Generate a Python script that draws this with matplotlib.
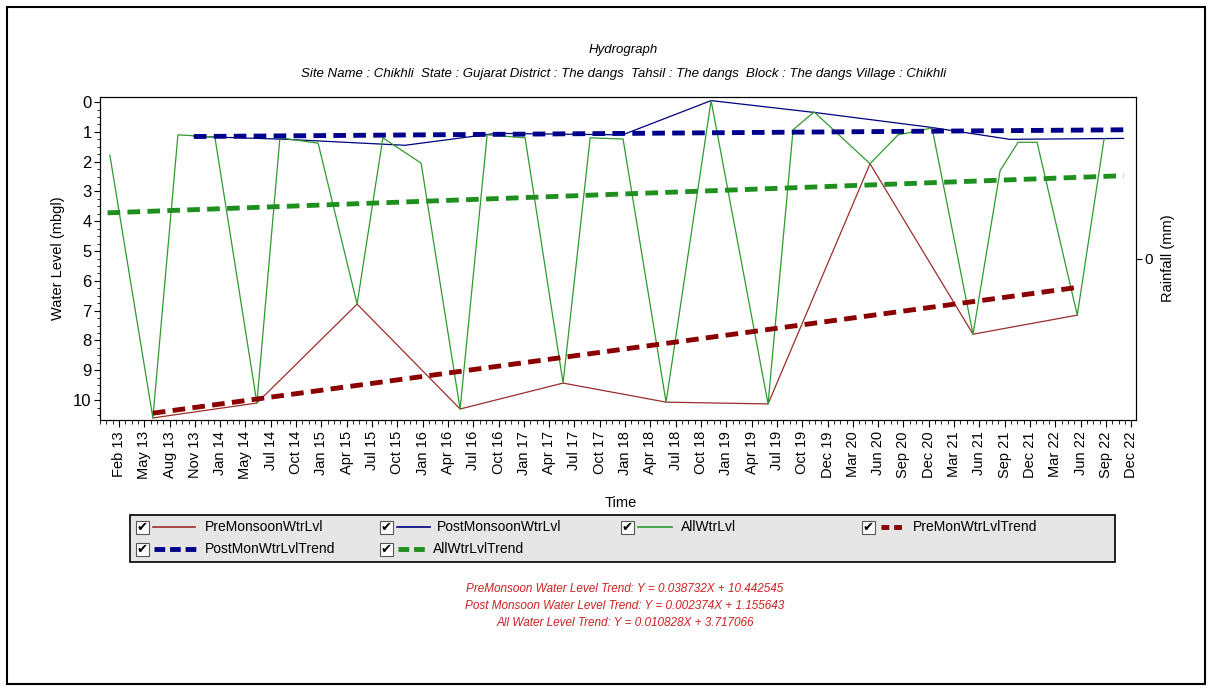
import matplotlib
matplotlib.use("Agg")
import matplotlib.pyplot as plt
from matplotlib.lines import Line2D
from matplotlib.patches import Rectangle
from matplotlib.ticker import AutoMinorLocator

plt.rcParams['font.family'] = ['Liberation Sans', 'DejaVu Sans']

# time axis labels (evenly spaced on the chart)
tick_labels = ['Feb 13', 'May 13', 'Aug 13', 'Nov 13',
               'Jan 14', 'May 14', 'Jul 14', 'Oct 14',
               'Jan 15', 'Apr 15', 'Jul 15', 'Oct 15',
               'Jan 16', 'Apr 16', 'Jul 16', 'Oct 16',
               'Jan 17', 'Apr 17', 'Jul 17', 'Oct 17',
               'Jan 18', 'Apr 18', 'Jul 18', 'Oct 18',
               'Jan 19', 'Apr 19', 'Jul 19', 'Oct 19', 'Dec 19',
               'Mar 20', 'Jun 20', 'Sep 20', 'Dec 20',
               'Mar 21', 'Jun 21', 'Sep 21', 'Dec 21',
               'Mar 22', 'Jun 22', 'Sep 22', 'Dec 22']

# positions are in tick steps counted from "Feb 13"
pre_x = [1.34, 5.45, 9.41, 13.48, 17.55, 21.62, 25.65, 29.68, 33.75, 37.87]
pre_y = [10.6, 10.1, 6.78, 10.3, 9.43, 10.07, 10.13, 2.07, 7.79, 7.15]

post_x = [2.96, 6.6, 11.3, 14.9, 19.9, 23.4, 27.5, 32.1, 35.2, 39.7]
post_y = [1.15, 1.25, 1.45, 1.05, 1.1, -0.05, 0.35, 0.85, 1.25, 1.22]

all_x = [-0.36, 1.34, 2.33, 3.79, 5.45, 6.36, 7.87, 9.41, 10.43, 11.94,
         13.48, 14.55, 16.05, 17.55, 18.62, 19.92, 21.62, 23.4, 25.65, 26.64,
         27.47, 29.68, 30.79, 32.13, 33.75, 34.82, 35.53, 36.28, 37.87, 38.93]
all_y = [1.78, 10.6, 1.1, 1.17, 10.1, 1.2, 1.38, 6.78, 1.2, 2.05,
         10.3, 1.1, 1.2, 9.43, 1.2, 1.24, 10.07, -0.05, 10.13, 0.93,
         0.33, 2.07, 1.1, 0.87, 7.79, 2.3, 1.35, 1.35, 7.15, 1.23]

# trend lines (start / end)
pre_trend_x = [1.34, 37.87]
pre_trend_y = [10.44, 6.22]
post_trend_x = [2.96, 39.7]
post_trend_y = [1.156, 0.93]
all_trend_x = [-0.45, 39.7]
all_trend_y = [3.717, 2.47]

trend_texts = ['PreMonsoon Water Level Trend: Y = 0.038732X + 10.442545',
               'Post Monsoon Water Level Trend: Y = 0.002374X + 1.155643',
               'All Water Level Trend: Y = 0.010828X + 3.717066']

c_pre = '#9b2d2d'
c_post = '#000080'
c_all = '#2f9a2f'
c_pre_tr = '#8b0000'
c_post_tr = '#00008b'
c_all_tr = '#1f8f1f'

fig = plt.figure(figsize=(12.12, 6.88), dpi=100)
fig.patches.append(Rectangle((0.006, 0.006), 0.988, 0.984, transform=fig.transFigure,
                             fill=False, edgecolor='black', linewidth=1.5))

ax = fig.add_axes([0.0825, 0.3895, 0.855, 0.4695])
ax.plot(pre_x, pre_y, color=c_pre, lw=0.9)
ax.plot(post_x, post_y, color=c_post, lw=0.9)
ax.plot(all_x, all_y, color=c_all, lw=0.9)
dash = (2.6, 1.5)
ax.plot(pre_trend_x, pre_trend_y, color=c_pre_tr, lw=3.5, dashes=dash)
ax.plot(post_trend_x, post_trend_y, color=c_post_tr, lw=3.5, dashes=dash)
ax.plot(all_trend_x, all_trend_y, color=c_all_tr, lw=3.5, dashes=dash)

ax.set_xlim(-0.75, 40.2)
ax.set_ylim(10.67, -0.17)
ax.set_xticks(range(len(tick_labels)))
ax.set_xticklabels(tick_labels, rotation=90, fontsize=10.5)
ax.xaxis.set_minor_locator(AutoMinorLocator(4))
ax.set_yticks(range(0, 11))
ax.set_yticklabels([str(v) for v in range(0, 11)], fontsize=12)
ax.yaxis.set_minor_locator(AutoMinorLocator(4))
ax.tick_params(axis='x', which='major', length=5, pad=3)
ax.tick_params(axis='x', which='minor', length=3)
ax.tick_params(axis='y', which='major', length=4, pad=2)
ax.tick_params(axis='y', which='minor', length=2)
ax.set_xlabel('Time', fontsize=10.5)
ax.xaxis.set_label_coords(0.503, -0.235)
ax.set_ylabel('Water Level (mbgl)', fontsize=10.5, labelpad=6)

ax2 = ax.twinx()
ax2.set_ylim(-1, 1)
ax2.set_yticks([0])
ax2.set_yticklabels(['0'], fontsize=11)
ax2.tick_params(axis='y', length=4, pad=2)
ax2.set_ylabel('Rainfall (mm)', fontsize=10.5, labelpad=6)

fig.text(0.5145, 0.927, 'Hydrograph', ha='center', va='center', fontsize=9.5, style='italic')
fig.text(0.5145, 0.893, 'Site Name : Chikhli  State : Gujarat District : The dangs  Tahsil : The dangs  Block : The dangs Village : Chikhli',
         ha='center', va='center', fontsize=9.5, style='italic')

# legend box drawn by hand (pixel positions on the 1212x688 canvas)
W, H = 1212.0, 688.0
def fx(px):
    return px / W
def fy(py):
    return 1 - py / H

fig.patches.append(Rectangle((fx(130), fy(562)), fx(1115) - fx(130), fy(515) - fy(562),
                             transform=fig.transFigure, facecolor='#e6e6e6',
                             edgecolor='black', linewidth=1.2))

legend_items = [
    (142, 527, 'PreMonsoonWtrLvl', c_pre, 1.2, None, 153, 195, 205),
    (386, 527, 'PostMonsoonWtrLvl', c_post, 1.2, None, 397, 430, 437),
    (627, 527, 'AllWtrLvl', c_all, 1.2, None, 638, 672, 681),
    (868, 527, 'PreMonWtrLvlTrend', c_pre_tr, 3.5, (1.6, 1.0), 881, 906, 913),
    (142, 549, 'PostMonWtrLvlTrend', c_post_tr, 3.5, (2.2, 1.0), 154, 196, 205),
    (386, 549, 'AllWtrLvlTrend', c_all_tr, 3.5, (2.2, 1.0), 398, 426, 433),
]
for bx, by, label, col, lw, ds, l0, l1, tx in legend_items:
    fig.patches.append(Rectangle((fx(bx - 6.5), fy(by + 6.5)), 13 / W, 13 / H,
                                 transform=fig.transFigure, facecolor='white',
                                 edgecolor='#555555', linewidth=0.8))
    fig.text(fx(bx), fy(by), '\u2714', ha='center', va='center', fontsize=9.5,
             family='DejaVu Sans')
    ln = Line2D([fx(l0), fx(l1)], [fy(by), fy(by)], transform=fig.transFigure,
                color=col, lw=lw)
    if ds is not None:
        ln.set_dashes(ds)
    fig.lines.append(ln)
    fig.text(fx(tx), fy(by), label, ha='left', va='center', fontsize=10)

for i, t in enumerate(trend_texts):
    fig.text(fx(625), fy(589 + 16.8 * i), t, ha='center', va='center',
             fontsize=8.5, style='italic', color='#cc2222')

fig.savefig('out.png', dpi=100)
